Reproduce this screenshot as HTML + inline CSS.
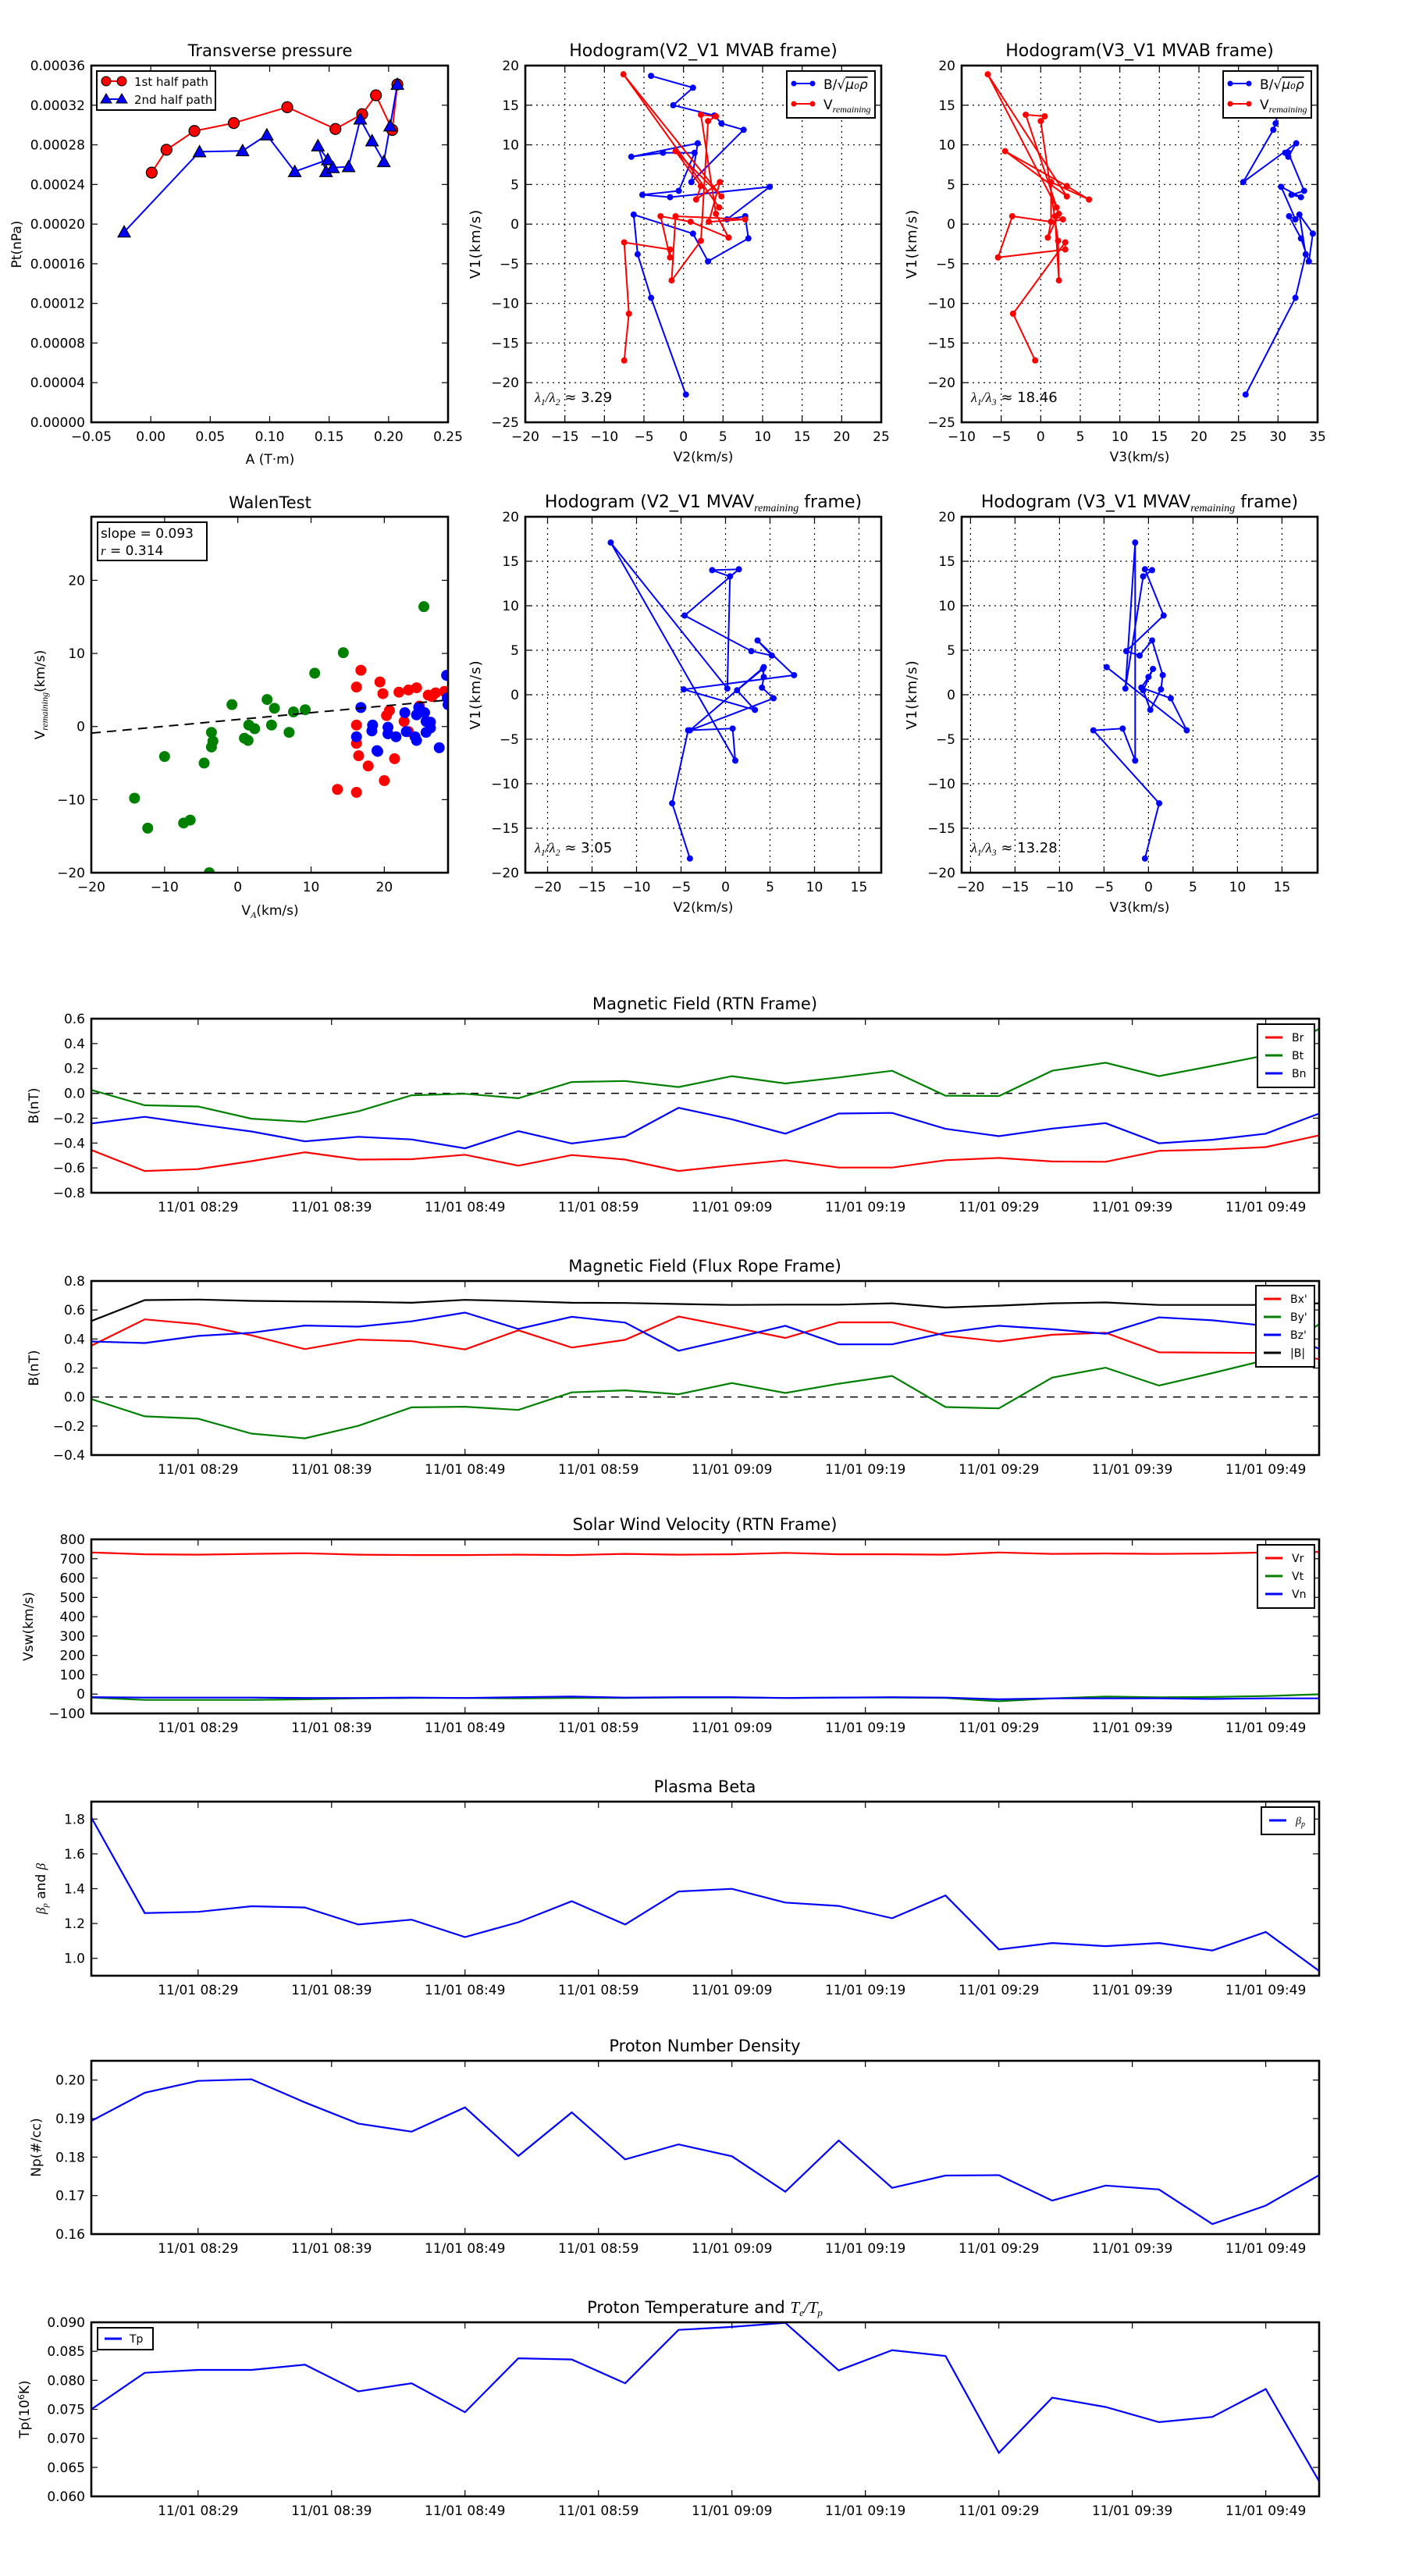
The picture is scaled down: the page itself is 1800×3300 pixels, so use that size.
<!DOCTYPE html>
<html><head><meta charset="utf-8">
<style>
html,body{margin:0;padding:0;background:#fff;}
svg{display:block;font-family:"DejaVu Sans","Liberation Sans",sans-serif;}
</style></head>
<body>
<svg id="fig" xmlns="http://www.w3.org/2000/svg" width="1800" height="3300" viewBox="0 0 1800 3300"></svg>
<script>
// ---------- Transverse pressure ----------
const tpA1 = [0.0008,0.0132,0.0367,0.0698,0.1148,0.1553,0.1778,0.1894,0.2031,0.2074];
const tpP1 = [0.000252,0.000275,0.000294,0.000302,0.000318,0.000296,0.000311,0.000330,0.000295,0.000341];
const tpA2 = [-0.0224,0.041,0.0772,0.0976,0.1211,0.1489,0.1406,0.1474,0.1532,0.1664,0.1762,0.1861,0.196,0.2013,0.2074];
const tpP2 = [0.000192,0.000273,0.000274,0.00029,0.000253,0.000265,0.000279,0.000253,0.000257,0.000258,0.000306,0.000284,0.000263,0.000299,0.000341];
const tpXTicks = [-0.05,0,0.05,0.10,0.15,0.20,0.25];
const tpXLabels = ['\u22120.05','0.00','0.05','0.10','0.15','0.20','0.25'];
const tpYTicks = [0,0.00004,0.00008,0.00012,0.00016,0.0002,0.00024,0.00028,0.00032,0.00036];
const tpYLabels = ['0.00000','0.00004','0.00008','0.00012','0.00016','0.00020','0.00024','0.00028','0.00032','0.00036'];
// ---------- Hodogram MVAB (B series) ----------
const hbV1 = [-21.5,-9.3,-3.8,1.2,-1.2,-4.7,-1.8,1.0,0.6,4.7,3.4,3.7,4.2,9.0,9.0,8.5,10.2,5.3,11.9,12.7,13.7,15.0,17.2,18.7];
const hbV2 = [0.3,-4.1,-5.8,-6.3,1.2,3.1,8.2,7.8,5.5,10.9,-1.7,-5.2,-0.6,1.4,-2.6,-6.6,1.8,1.0,7.6,4.8,3.9,-1.3,1.2,-4.1];
const hbV3 = [25.9,32.2,33.5,32.7,34.4,33.9,32.9,31.4,32.2,30.4,32.9,31.7,33.3,31.3,30.9,31.3,32.3,25.6,29.4,29.7,29.9,30.0,30.5,31.0];
// ---------- Hodogram MVAB (V remaining) ----------
const hrV1 = [-17.2,-11.3,-2.3,-3.2,-4.2,1.0,0.3,-1.7,1.3,13.8,13.6,13.0,-2.1,-7.1,1.0,0.6,0.3,5.3,3.1,4.8,9.2,3.5,18.9,2.1];
const hrV2 = [-7.5,-6.9,-7.5,-1.7,-1.7,-2.9,0.9,5.7,4.1,2.2,4.1,3.1,2.2,-1.5,-1.0,7.8,3.2,4.6,1.6,2.2,-1.0,4.8,-7.6,4.5];
const hrV3 = [-0.7,-3.5,3.1,3.1,-5.4,-3.6,1.3,0.9,2.3,-1.9,0.5,0.0,2.2,2.3,1.8,2.8,1.3,1.3,6.1,3.3,-4.5,3.3,-6.7,2.0];
// ---------- Hodogram MVAV remaining ----------
const hvV1 = [-18.4,-12.2,-4.0,-3.8,-7.4,17.1,0.7,13.3,14.0,14.1,8.9,4.9,4.4,6.1,2.2,0.6,-1.7,0.5,2.9,2.0,0.8,-0.4,-4.0,3.1];
const hvV2 = [-4.0,-6.0,-4.2,0.8,1.1,-12.9,0.2,0.5,-1.5,1.5,-4.6,2.9,5.2,3.6,7.7,-4.7,3.3,1.3,4.2,4.3,4.1,5.4,-4.0,4.3];
const hvV3 = [-0.4,1.2,-6.2,-2.9,-1.5,-1.5,-2.6,-0.6,0.4,-0.4,1.7,-2.5,-1.0,0.4,1.6,1.4,0.2,-0.6,0.5,0.0,-0.8,2.5,4.3,-4.7];
// ---------- Walen test ----------
const wgX = [-14.1,-12.3,-10.0,-7.4,-6.5,-4.6,-3.6,-3.4,-3.6,-3.9,-0.8,0.9,1.4,1.5,2.3,4.0,4.6,5.0,7.0,7.6,9.2,10.5,14.4,25.4];
const wgY = [-9.8,-13.9,-4.1,-13.2,-12.8,-5.0,-0.8,-2.0,-2.8,-20.0,3.0,-1.6,-1.9,0.2,-0.3,3.7,0.2,2.5,-0.8,2.0,2.3,7.3,10.1,16.4];
const wrX = [13.6,16.2,16.2,16.8,16.2,16.2,16.5,17.8,19.4,19.8,20.0,20.3,20.7,21.4,22.0,22.7,23.3,24.4,24.8,26.0,26.5,27.0,28.2,23.3];
const wrY = [-8.6,-9.0,5.4,7.7,0.2,-2.3,-4.0,-5.4,6.1,4.5,-7.4,1.5,2.2,-4.4,4.7,0.7,5.0,5.3,2.8,4.3,4.1,4.6,4.8,-0.7];
const wbX = [16.2,16.8,18.3,18.4,19.0,19.1,20.5,20.5,21.6,22.8,23.0,24.2,24.4,24.4,24.7,25.5,25.7,25.7,26.3,26.3,27.5,28.5,28.6,28.7];
const wbY = [-1.4,2.6,-0.6,0.2,-3.3,-3.4,-0.1,-1.0,-1.4,1.9,-0.7,-1.4,-1.9,1.6,2.6,1.9,0.7,-0.8,0.6,-0.2,-2.9,7.0,3.9,3.0];
const walenSlope = 0.093;
const walenIntercept = 0.96;
// ---------- Time series (24 samples, 4 min cadence from 08:21) ----------
const tsMinutes = [0,4,8,12,16,20,24,28,32,36,40,44,48,52,56,60,64,68,72,76,80,84,88,92];
const tsTickMinutes = [8,18,28,38,48,58,68,78,88];
const tsTickLabels = ['11/01 08:29','11/01 08:39','11/01 08:49','11/01 08:59','11/01 09:09','11/01 09:19','11/01 09:29','11/01 09:39','11/01 09:49'];
const Br = [-0.456,-0.625,-0.610,-0.546,-0.474,-0.533,-0.530,-0.494,-0.582,-0.497,-0.533,-0.625,-0.579,-0.538,-0.597,-0.597,-0.538,-0.520,-0.548,-0.551,-0.463,-0.453,-0.433,-0.338];
const Bt = [0.027,-0.096,-0.106,-0.204,-0.230,-0.145,-0.016,-0.004,-0.040,0.091,0.099,0.050,0.138,0.079,0.127,0.181,-0.019,-0.022,0.181,0.246,0.138,0.220,0.305,0.518];
const Bn = [-0.243,-0.189,-0.250,-0.307,-0.386,-0.350,-0.371,-0.443,-0.304,-0.404,-0.348,-0.117,-0.209,-0.325,-0.163,-0.158,-0.286,-0.345,-0.284,-0.240,-0.402,-0.374,-0.325,-0.163];
const Bx1 = [0.354,0.535,0.502,0.425,0.330,0.396,0.385,0.328,0.460,0.341,0.394,0.555,0.482,0.407,0.515,0.515,0.423,0.383,0.429,0.443,0.308,0.306,0.304,0.262];
const By1 = [-0.014,-0.133,-0.149,-0.252,-0.285,-0.199,-0.071,-0.067,-0.089,0.032,0.046,0.019,0.096,0.028,0.092,0.145,-0.069,-0.078,0.134,0.202,0.079,0.165,0.255,0.502];
const Bz1 = [0.383,0.372,0.421,0.443,0.493,0.485,0.522,0.582,0.469,0.553,0.513,0.319,0.403,0.491,0.363,0.363,0.443,0.491,0.467,0.436,0.549,0.529,0.491,0.332];
const Bmag = [0.524,0.668,0.672,0.663,0.659,0.657,0.650,0.670,0.661,0.650,0.648,0.641,0.635,0.637,0.637,0.646,0.617,0.630,0.646,0.652,0.635,0.635,0.635,0.646];
const Vr = [732,723,721,725,728,721,719,719,721,719,725,721,723,730,723,723,721,732,725,727,725,727,732,735];
const Vt = [-18,-30,-30,-30,-27,-22,-20,-20,-22,-20,-20,-18,-18,-20,-18,-18,-20,-37,-22,-13,-17,-15,-10,-1];
const Vn = [-16,-18,-18,-18,-20,-20,-18,-20,-16,-13,-18,-16,-16,-20,-18,-16,-18,-27,-22,-22,-22,-25,-22,-22];
const betaP = [1.809,1.260,1.267,1.299,1.292,1.194,1.222,1.122,1.207,1.328,1.194,1.384,1.399,1.320,1.301,1.230,1.361,1.051,1.088,1.070,1.088,1.045,1.151,0.928];
const Np = [0.1894,0.1967,0.1998,0.2002,0.1942,0.1887,0.1866,0.1929,0.1803,0.1916,0.1794,0.1833,0.1802,0.1710,0.1843,0.1720,0.1752,0.1753,0.1687,0.1726,0.1716,0.1626,0.1674,0.1753];
const Tp = [0.0750,0.0813,0.0818,0.0818,0.0827,0.0781,0.0795,0.0745,0.0838,0.0836,0.0795,0.0887,0.0892,0.0899,0.0817,0.0852,0.0842,0.0675,0.0770,0.0754,0.0728,0.0737,0.0785,0.0626];

const NS = 'http://www.w3.org/2000/svg';
const fig = document.getElementById('fig');
let clipId = 0;

function el(tag, attrs, parent, name) {
  const e = document.createElementNS(NS, tag);
  for (const k in attrs) e.setAttribute(k, attrs[k]);
  
  
  parent.appendChild(e);
  return e;
}
function txt(parent, x, y, html, size, anchor, name, extra) {
  const a = {x: x, y: y, 'font-size': size, 'text-anchor': anchor || 'middle', fill: '#000'};
  if (extra) for (const k in extra) a[k] = extra[k];
  const t = el('text', a, parent, name);
  t.innerHTML = html;
  return t;
}
function lin(d0, d1, p0, p1) { return v => p0 + (v - d0) / (d1 - d0) * (p1 - p0); }

function axes(name, box, xd, yd, xt, xl, yt, yl, grid) {
  const g = el('g', {}, fig, name);
  const sx = lin(xd[0], xd[1], box.l, box.r);
  const sy = lin(yd[0], yd[1], box.b, box.t);
  const id = 'clip' + (clipId++);
  const cp = el('clipPath', {id: id}, g, name + '-clip');
  el('rect', {x: box.l, y: box.t, width: box.r - box.l, height: box.b - box.t}, cp, name + '-clip-rect');
  xt.forEach((v, i) => {
    const x = sx(v);
    if (grid) el('line', {x1: x, x2: x, y1: box.t, y2: box.b, stroke: '#000', 'stroke-width': 1.2, 'stroke-dasharray': '2,5'}, g, 'x-grid-line');
    el('line', {x1: x, x2: x, y1: box.b, y2: box.b - 8, stroke: '#000', 'stroke-width': 1.2}, g, 'x-tick');
    el('line', {x1: x, x2: x, y1: box.t, y2: box.t + 8, stroke: '#000', 'stroke-width': 1.2}, g, 'x-tick');
    if (xl[i] !== '') txt(g, x, box.b + 24, xl[i], 17, 'middle', 'x-tick-label');
  });
  yt.forEach((v, i) => {
    const y = sy(v);
    if (grid) el('line', {x1: box.l, x2: box.r, y1: y, y2: y, stroke: '#000', 'stroke-width': 1.2, 'stroke-dasharray': '2,5'}, g, 'y-grid-line');
    el('line', {x1: box.l, x2: box.l + 8, y1: y, y2: y, stroke: '#000', 'stroke-width': 1.2}, g, 'y-tick');
    el('line', {x1: box.r, x2: box.r - 8, y1: y, y2: y, stroke: '#000', 'stroke-width': 1.2}, g, 'y-tick');
    txt(g, box.l - 8, y + 6, yl[i], 17, 'end', 'y-tick-label');
  });
  const data = el('g', {'clip-path': 'url(#' + id + ')'}, g, name + '-data');
  return {g: g, data: data, sx: sx, sy: sy, box: box};
}
function frame(ax, name) {
  const b = ax.box;
  el('rect', {x: b.l, y: b.t, width: b.r - b.l, height: b.b - b.t, fill: 'none', stroke: '#000', 'stroke-width': 2.6}, ax.g, name);
}
function polyline(ax, xs, ys, color, w, name) {
  const pts = xs.map((x, i) => ax.sx(x).toFixed(1) + ',' + ax.sy(ys[i]).toFixed(1)).join(' ');
  return el('polyline', {points: pts, fill: 'none', stroke: color, 'stroke-width': w, 'stroke-linejoin': 'miter'}, ax.data, name);
}
function dots(ax, xs, ys, color, r, name, stroke) {
  xs.forEach((x, i) => {
    el('circle', {cx: ax.sx(x), cy: ax.sy(ys[i]), r: r, fill: color, stroke: stroke || 'none', 'stroke-width': 1.2}, ax.data, name);
  });
}
function tris(ax, xs, ys, color, s, name) {
  xs.forEach((x, i) => {
    const cx = ax.sx(x), cy = ax.sy(ys[i]);
    el('polygon', {points: `${cx},${cy - s} ${cx - s},${cy + s * 0.8} ${cx + s},${cy + s * 0.8}`, fill: color, stroke: '#000', 'stroke-width': 1.2}, ax.data, name);
  });
}
function range(a, b, s) { const r = []; for (let v = a; v <= b + 1e-9; v += s) r.push(+v.toFixed(6)); return r; }
function lab(arr) { return arr.map(v => (v < 0 ? '\u2212' + Math.abs(v) : '' + v)); }

// ===== Transverse pressure =====
{
  const ax = axes('transverse-pressure-chart', {l: 117, r: 574, t: 84, b: 541}, [-0.05, 0.25], [0, 0.00036], tpXTicks, tpXLabels, tpYTicks, tpYLabels, false);
  polyline(ax, tpA1, tpP1, '#f00', 2, 'first-half-path-line');
  polyline(ax, tpA2, tpP2, '#00f', 2, 'second-half-path-line');
  dots(ax, tpA1, tpP1, '#f00', 7, 'first-half-point', '#000');
  tris(ax, tpA2, tpP2, '#00f', 8, 'second-half-point');
  frame(ax, 'transverse-frame');
  txt(ax.g, 346, 72, 'Transverse pressure', 21, 'middle', 'chart-title');
  txt(ax.g, 346, 594, 'A (T\u00b7m)', 17, 'middle', 'x-axis-title');
  txt(ax.g, 0, 0, 'Pt(nPa)', 17, 'middle', 'y-axis-title', {transform: 'translate(27,313) rotate(-90)'});
  const lg = el('g', {}, ax.g, 'legend');
  el('rect', {x: 124, y: 91, width: 152, height: 50, fill: '#fff', stroke: '#000', 'stroke-width': 2}, lg, 'legend-box');
  el('line', {x1: 136, x2: 156, y1: 104, y2: 104, stroke: '#f00', 'stroke-width': 2}, lg, 'legend-line-first');
  el('circle', {cx: 136, cy: 104, r: 6, fill: '#f00', stroke: '#000'}, lg, 'legend-marker-first');
  el('circle', {cx: 156, cy: 104, r: 6, fill: '#f00', stroke: '#000'}, lg, 'legend-marker-first');
  txt(lg, 172, 110, '1st half path', 15, 'start', 'legend-label-first');
  el('line', {x1: 136, x2: 156, y1: 127, y2: 127, stroke: '#00f', 'stroke-width': 2}, lg, 'legend-line-second');
  el('polygon', {points: '136,120 129,132 143,132', fill: '#00f', stroke: '#000'}, lg, 'legend-marker-second');
  el('polygon', {points: '156,120 149,132 163,132', fill: '#00f', stroke: '#000'}, lg, 'legend-marker-second');
  txt(lg, 172, 133, '2nd half path', 15, 'start', 'legend-label-second');
}

// ===== Hodogram helpers =====
function hodoLegend(g, x0, y0) {
  const lg = el('g', {}, g, 'legend');
  el('rect', {x: x0, y: y0, width: 113, height: 60, fill: '#fff', stroke: '#000', 'stroke-width': 2}, lg, 'legend-box');
  el('line', {x1: x0 + 9, x2: x0 + 33, y1: y0 + 16, y2: y0 + 16, stroke: '#00f', 'stroke-width': 2}, lg, 'legend-line-b');
  el('circle', {cx: x0 + 9, cy: y0 + 16, r: 3.5, fill: '#00f'}, lg, 'legend-marker-b');
  el('circle', {cx: x0 + 33, cy: y0 + 16, r: 3.5, fill: '#00f'}, lg, 'legend-marker-b');
  txt(lg, x0 + 47, y0 + 23, 'B/\u221a<tspan font-style="italic" text-decoration="overline">\u03bc\u2080\u03c1</tspan>', 17, 'start', 'legend-label-b');
  el('line', {x1: x0 + 9, x2: x0 + 33, y1: y0 + 42, y2: y0 + 42, stroke: '#f00', 'stroke-width': 2}, lg, 'legend-line-v');
  el('circle', {cx: x0 + 9, cy: y0 + 42, r: 3.5, fill: '#f00'}, lg, 'legend-marker-v');
  el('circle', {cx: x0 + 33, cy: y0 + 42, r: 3.5, fill: '#f00'}, lg, 'legend-marker-v');
  txt(lg, x0 + 47, y0 + 49, 'V<tspan font-size="12" font-style="italic" font-family="Liberation Serif, serif" dy="4">remaining</tspan>', 17, 'start', 'legend-label-v');
}
function hodo(name, box, xd, yd, xt, yt, title, xlabel, ratio, series, legend) {
  const ax = axes(name, box, xd, yd, xt, lab(xt), yt, lab(yt), true);
  series.forEach(s => {
    polyline(ax, s.x, s.y, s.c, 2, s.n + '-line');
    dots(ax, s.x, s.y, s.c, 4, s.n + '-point');
  });
  frame(ax, name + '-frame');
  const cx = (box.l + box.r) / 2;
  txt(ax.g, cx, box.t - 12, title, 22, 'middle', 'chart-title');
  txt(ax.g, cx, box.b + 50, xlabel, 17, 'middle', 'x-axis-title');
  txt(ax.g, 0, 0, 'V1(km/s)', 18, 'middle', 'y-axis-title', {transform: `translate(${box.l - 58},${(box.t + box.b) / 2}) rotate(-90)`, 'letter-spacing': '1'});
  txt(ax.g, box.l + 12, box.b - 26, ratio, 18, 'start', 'eigenvalue-ratio');
  if (legend) hodoLegend(ax.g, box.r - 121, box.t + 7);
  return ax;
}
const lam = (a, b, v) => `<tspan font-style="italic" font-family="Liberation Serif, serif">\u03bb<tspan font-size="12" dy="4">${a}</tspan><tspan dy="-4">/\u03bb</tspan><tspan font-size="12" dy="4">${b}</tspan></tspan><tspan dy="-4"> \u2248 ${v}</tspan>`;

hodo('hodogram-v2-v1-mvab', {l: 673, r: 1129, t: 84, b: 541}, [-20, 25], [-25, 20], range(-20, 25, 5), range(-25, 20, 5),
  'Hodogram(V2_V1 MVAB frame)', 'V2(km/s)', lam(1, 2, '3.29'),
  [{x: hbV2, y: hbV1, c: '#00f', n: 'b-series'}, {x: hrV2, y: hrV1, c: '#f00', n: 'v-remaining'}], true);
hodo('hodogram-v3-v1-mvab', {l: 1232, r: 1688, t: 84, b: 541}, [-10, 35], [-25, 20], range(-10, 35, 5), range(-25, 20, 5),
  'Hodogram(V3_V1 MVAB frame)', 'V3(km/s)', lam(1, 3, '18.46'),
  [{x: hbV3, y: hbV1, c: '#00f', n: 'b-series'}, {x: hrV3, y: hrV1, c: '#f00', n: 'v-remaining'}], true);
hodo('hodogram-v2-v1-mvav', {l: 673, r: 1129, t: 662, b: 1118}, [-22.5, 17.5], [-20, 20], range(-20, 15, 5), range(-20, 20, 5),
  'Hodogram (V2_V1 MVAV<tspan font-size="14" font-style="italic" font-family="Liberation Serif, serif" dy="5">remaining</tspan><tspan dy="-5"> frame)</tspan>', 'V2(km/s)', lam(1, 2, '3.05'),
  [{x: hvV2, y: hvV1, c: '#00f', n: 'mvav-series'}], false);
hodo('hodogram-v3-v1-mvav', {l: 1232, r: 1688, t: 662, b: 1118}, [-21, 19], [-20, 20], range(-20, 15, 5), range(-20, 20, 5),
  'Hodogram (V3_V1 MVAV<tspan font-size="14" font-style="italic" font-family="Liberation Serif, serif" dy="5">remaining</tspan><tspan dy="-5"> frame)</tspan>', 'V3(km/s)', lam(1, 3, '13.28'),
  [{x: hvV3, y: hvV1, c: '#00f', n: 'mvav-series'}], false);

// ===== Walen test =====
{
  const xt = [-20, -10, 0, 10, 20], yt = [-20, -10, 0, 10, 20];
  const ax = axes('walen-test-chart', {l: 117, r: 574, t: 662, b: 1118}, [-20, 28.7], [-20, 28.7], xt, lab(xt), yt, lab(yt), false);
  dots(ax, wgX, wgY, '#008000', 7, 'walen-green-point');
  dots(ax, wrX, wrY, '#f00', 7, 'walen-red-point');
  dots(ax, wbX, wbY, '#00f', 7, 'walen-blue-point');
  el('line', {x1: ax.sx(-20), y1: ax.sy(walenSlope * -20 + walenIntercept), x2: ax.sx(28.7), y2: ax.sy(walenSlope * 28.7 + walenIntercept), stroke: '#000', 'stroke-width': 2, 'stroke-dasharray': '12,8'}, ax.data, 'walen-fit-line');
  frame(ax, 'walen-frame');
  txt(ax.g, 346, 651, 'WalenTest', 21, 'middle', 'chart-title');
  txt(ax.g, 346, 1172, 'V<tspan font-size="12" font-style="italic" font-family="Liberation Serif, serif" dy="4">A</tspan><tspan dy="-4">(km/s)</tspan>', 17, 'middle', 'x-axis-title');
  txt(ax.g, 0, 0, 'V<tspan font-size="12" font-style="italic" font-family="Liberation Serif, serif" dy="4">remaining</tspan><tspan dy="-4">(km/s)</tspan>', 17, 'middle', 'y-axis-title', {transform: 'translate(57,890) rotate(-90)'});
  el('rect', {x: 125, y: 669, width: 140, height: 49, fill: '#fff', stroke: '#000', 'stroke-width': 2}, ax.g, 'stats-box');
  txt(ax.g, 129, 689, 'slope = 0.093', 17, 'start', 'slope-label');
  txt(ax.g, 129, 711, '<tspan font-style="italic" font-family="Liberation Serif, serif">r</tspan> = 0.314', 17, 'start', 'r-label');
}

// ===== Time series =====
function ts(name, top, bot, yd, yt, yl, title, ylabel, ylx, series, zero, legend) {
  const ax = axes(name, {l: 117, r: 1690, t: top, b: bot}, [0, 92], yd, tsTickMinutes, tsTickLabels, yt, yl, false);
  if (zero) el('line', {x1: 117, x2: 1690, y1: ax.sy(0), y2: ax.sy(0), stroke: '#000', 'stroke-width': 1.5, 'stroke-dasharray': '10,8'}, ax.data, 'zero-line');
  series.forEach(s => polyline(ax, tsMinutes, s.v, s.c, 2.2, s.n + '-line'));
  frame(ax, name + '-frame');
  txt(ax.g, 903, top - 12, title, 21, 'middle', 'chart-title');
  txt(ax.g, 0, 0, ylabel, 17, 'middle', 'y-axis-title', {transform: `translate(${ylx},${(top + bot) / 2}) rotate(-90)`});
  if (legend) {
    const lg = el('g', {}, ax.g, 'legend');
    const h = legend.items.length * 23 + 12;
    el('rect', {x: legend.x, y: legend.y, width: 1684 - legend.x, height: h, fill: '#fff', stroke: '#000', 'stroke-width': 2}, lg, 'legend-box');
    legend.items.forEach((it, i) => {
      const y = legend.y + 17 + i * 23;
      el('line', {x1: legend.x + 10, x2: legend.x + 32, y1: y, y2: y, stroke: it.c, 'stroke-width': 3}, lg, 'legend-line');
      txt(lg, legend.x + 44, y + 5, it.t, 14, 'start', 'legend-label');
    });
  }
  return ax;
}
ts('magnetic-field-rtn', 1305, 1528, [-0.8, 0.6], range(-0.8, 0.6, 0.2), range(-0.8, 0.6, 0.2).map(v => (v < -1e-9 ? '\u2212' : '') + Math.abs(v).toFixed(1)), 'Magnetic Field (RTN Frame)', 'B(nT)', 49,
  [{v: Br, c: '#f00', n: 'br'}, {v: Bt, c: '#008000', n: 'bt'}, {v: Bn, c: '#00f', n: 'bn'}], true,
  {x: 1611, y: 1312, items: [{c: '#f00', t: 'Br'}, {c: '#008000', t: 'Bt'}, {c: '#00f', t: 'Bn'}]});
ts('magnetic-field-flux-rope', 1641, 1864, [-0.4, 0.8], range(-0.4, 0.8, 0.2), range(-0.4, 0.8, 0.2).map(v => (v < -1e-9 ? '\u2212' : '') + Math.abs(v).toFixed(1)), 'Magnetic Field (Flux Rope Frame)', 'B(nT)', 49,
  [{v: Bx1, c: '#f00', n: 'bx-prime'}, {v: By1, c: '#008000', n: 'by-prime'}, {v: Bz1, c: '#00f', n: 'bz-prime'}, {v: Bmag, c: '#000', n: 'b-magnitude'}], true,
  {x: 1609, y: 1647, items: [{c: '#f00', t: "Bx'"}, {c: '#008000', t: "By'"}, {c: '#00f', t: "Bz'"}, {c: '#000', t: '|B|'}]});
ts('solar-wind-velocity', 1972, 2195, [-100, 800], range(-100, 800, 100), lab(range(-100, 800, 100)), 'Solar Wind Velocity (RTN Frame)', 'Vsw(km/s)', 42,
  [{v: Vr, c: '#f00', n: 'vr'}, {v: Vt, c: '#008000', n: 'vt'}, {v: Vn, c: '#00f', n: 'vn'}], false,
  {x: 1611, y: 1979, items: [{c: '#f00', t: 'Vr'}, {c: '#008000', t: 'Vt'}, {c: '#00f', t: 'Vn'}]});
ts('plasma-beta', 2308, 2531, [0.9, 1.9], [1.0, 1.2, 1.4, 1.6, 1.8], ['1.0', '1.2', '1.4', '1.6', '1.8'], 'Plasma Beta', '<tspan font-style="italic" font-family="Liberation Serif, serif">\u03b2<tspan font-size="11" dy="3">p</tspan></tspan><tspan dy="-3"> and </tspan><tspan font-style="italic" font-family="Liberation Serif, serif">\u03b2</tspan>', 58,
  [{v: betaP, c: '#00f', n: 'beta-p'}], false,
  {x: 1616, y: 2315, items: [{c: '#00f', t: '<tspan font-style="italic" font-family="Liberation Serif, serif">\u03b2<tspan font-size="10" dy="3">p</tspan></tspan>'}]});
ts('proton-number-density', 2640, 2862, [0.16, 0.205], [0.16, 0.17, 0.18, 0.19, 0.20], ['0.16', '0.17', '0.18', '0.19', '0.20'], 'Proton Number Density', 'Np(#/cc)', 52,
  [{v: Np, c: '#00f', n: 'np'}], false, null);
{
  const ax = ts('proton-temperature', 2975, 3198, [0.060, 0.090], range(0.06, 0.09, 0.005), range(0.06, 0.09, 0.005).map(v => v.toFixed(3)), 'Proton Temperature and <tspan font-style="italic" font-family="Liberation Serif, serif">T<tspan font-size="13" dy="4">e</tspan><tspan dy="-4">/T</tspan><tspan font-size="13" dy="4">p</tspan></tspan>', 'Tp(10<tspan font-size="11" dy="-6">6</tspan><tspan dy="6">K)</tspan>', 37,
    [{v: Tp, c: '#00f', n: 'tp'}], false, null);
  const lg = el('g', {}, ax.g, 'legend');
  el('rect', {x: 125, y: 2982, width: 71, height: 28, fill: '#fff', stroke: '#000', 'stroke-width': 2}, lg, 'legend-box');
  el('line', {x1: 134, x2: 156, y1: 2996, y2: 2996, stroke: '#00f', 'stroke-width': 3}, lg, 'legend-line');
  txt(lg, 166, 3001, 'Tp', 14, 'start', 'legend-label');
}
</script>
</body></html>
